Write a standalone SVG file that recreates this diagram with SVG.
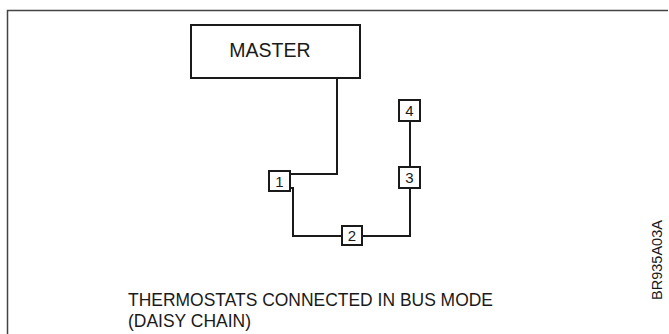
<svg xmlns="http://www.w3.org/2000/svg" width="669" height="334" viewBox="0 0 669 334">
<style>
.frame{fill:none;stroke:#444;stroke-width:1.5}
.box{fill:#fff;stroke:#1a1a1a;stroke-width:2}
.wire{fill:none;stroke:#1a1a1a;stroke-width:2}
.lbl{font-family:"Liberation Sans",Arial,sans-serif;fill:#1a1a1a}
.num{font-size:15px;text-anchor:middle}
</style>
<rect width="669" height="334" fill="#fff"/>
<path class="frame" d="M7.5,334 V10.5 H668"/>
<g id="connectors">
<path class="wire" d="M337,78 V174 H290"/>
<path class="wire" d="M290,188 H293 V236 H342"/>
<path class="wire" d="M362,236 H410 V188"/>
<path class="wire" d="M410,167 V121"/>
</g>
<g id="master">
<rect class="box" x="191" y="25" width="169" height="53"/>
<text class="lbl" x="270" y="57" font-size="19.5" text-anchor="middle">MASTER</text>
</g>
<g id="node1">
<rect class="box" x="269" y="171" width="21" height="20"/>
<text class="lbl num" x="279.5" y="186.5">1</text>
</g>
<g id="node2">
<rect class="box" x="342" y="226" width="20" height="19"/>
<text class="lbl num" x="352" y="241">2</text>
</g>
<g id="node3">
<rect class="box" x="399" y="167" width="21" height="21"/>
<text class="lbl num" x="409.5" y="183">3</text>
</g>
<g id="node4">
<rect class="box" x="399" y="100" width="21" height="21"/>
<text class="lbl num" x="409.5" y="116">4</text>
</g>
<g id="caption">
<text class="lbl" x="128" y="306" font-size="18.5" textLength="365" lengthAdjust="spacingAndGlyphs">THERMOSTATS CONNECTED IN BUS MODE</text>
<text class="lbl" x="128" y="327" font-size="18.5" textLength="123" lengthAdjust="spacingAndGlyphs">(DAISY CHAIN)</text>
</g>
<text class="lbl" transform="translate(662,260) rotate(-90)" font-size="14.5" text-anchor="middle">BR935A03A</text>
</svg>
